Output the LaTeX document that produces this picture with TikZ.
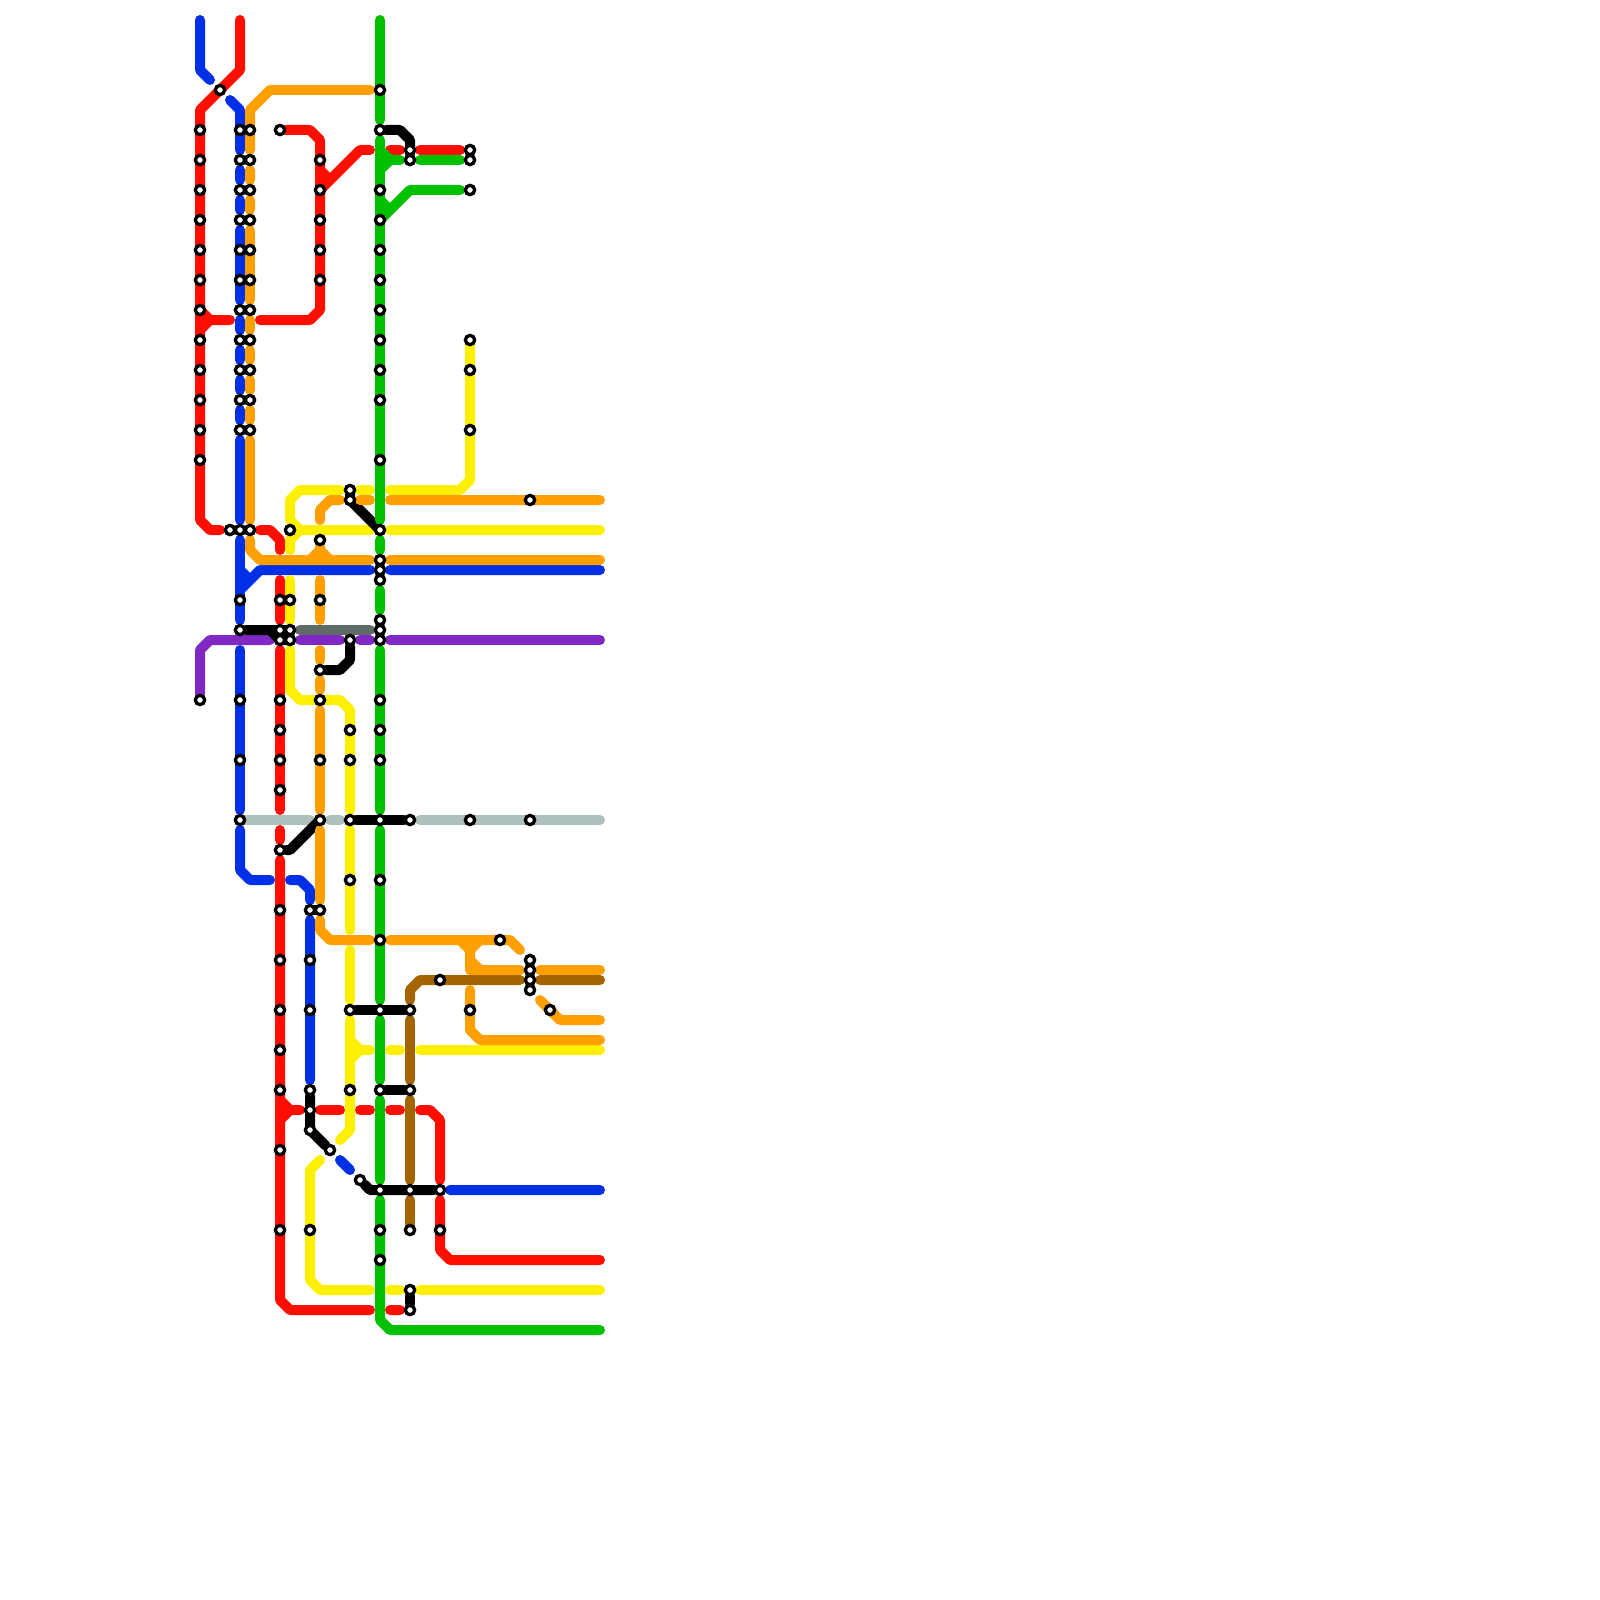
\documentclass[tikz,border=0pt]{standalone}
\usepackage{tikz}
\usetikzlibrary{backgrounds}
\definecolor{metrored}{HTML}{FF0D00}
\definecolor{metroblue}{HTML}{0030E6}
\definecolor{metroorange}{HTML}{FFA000}
\definecolor{metrogreen}{HTML}{00C000}
\definecolor{metroyellow}{HTML}{FFF000}
\definecolor{metropurple}{HTML}{8028C4}
\definecolor{metrobrown}{HTML}{A46400}
\definecolor{metrograyd}{HTML}{5F6B68}
\definecolor{metrograyl}{HTML}{ADC0BB}
\tikzstyle{station} = [circle, draw=black, fill=white, line width=0.33mm, minimum size=0.93mm, inner sep=0pt]
\tikzstyle{metro} = [line width=1mm, line cap=round, line join=round]
\tikzstyle{redline} = [metro, draw=metrored]
\tikzstyle{blueline} = [metro, draw=metroblue]
\tikzstyle{orangeline} = [metro, draw=metroorange]
\tikzstyle{greenline} = [metro, draw=metrogreen]
\tikzstyle{yellowline} = [metro, draw=metroyellow]
\tikzstyle{purpleline} = [metro, draw=metropurple]
\tikzstyle{brownline} = [metro, draw=metrobrown]
\tikzstyle{darkline} = [metro, draw=metrograyd]
\tikzstyle{paleline} = [metro, draw=metrograyl]
\tikzstyle{link} = [metro, draw=black]
\begin{document}
\begin{tikzpicture}[x=1mm, y=-1mm]
  \useasboundingbox (0,0) rectangle (160,160);

  % stations, column by column
  \foreach \sx/\rows in {
    20/{13,16,19,22,25,28,31,34,37,40,43,46,70},
    22/{9},
    23/{53},
    24/{13,16,19,22,25,28,31,34,37,40,43,53,60,63,70,76,82},
    25/{13,16,19,22,25,28,31,34,37,40,43,53},
    28/{13,60,63,64,70,73,76,79,85,91,96,101,105,109,115,123},
    29/{53,60,63,64},
    31/{91,96,101,109,111,113,123},
    32/{16,19,22,25,28,54,60,67,70,76,82,91},
    33/{115},
    35/{49,50,64,73,76,82,88,101,109},
    36/{118},
    38/{9,13,19,22,25,28,31,34,37,40,46,53,56,57,58,62,63,64,70,73,76,82,88,94,101,109,119,123,126},
    41/{15,16,82,101,109,119,123,129,131},
    44/{98,119,123},
    47/{15,16,19,34,37,43,82,101},
    50/{94},
    53/{50,82,96,97,98,99},
    55/{101}}
    \foreach \sy in \rows
      \node[station] (s\sx-\sy) at (\sx,\sy) {};

  \begin{scope}[on background layer]
    % red
    \draw[redline] (24,2) -- (24,7) -- (20,11) -- (20,52) -- (21,53) -- (22,53);
    \draw[redline] (20,31) -- (21,32) -- (23,32) (20,33) -- (21,32);
    \draw[redline] (s28-13) -- (31,13) -- (32,14) -- (32,31) -- (31,32) -- (26,32);
    \draw[redline] (32,17) -- (33,18) (32,19) -- (36,15) -- (37,15);
    \draw[redline] (39,15) -- (40,15) (42,15) -- (46,15);
    \draw[redline] (26,53) -- (27,53) -- (28,54) -- (28,55);
    \draw[redline] (28,58) -- (28,62) (28,65) -- (28,81) (28,83) -- (28,84);
    \draw[redline] (28,86) -- (28,130) -- (29,131) -- (37,131) (39,131) -- (40,131);
    \draw[redline] (28,110) -- (29,111) -- (30,111) (28,112) -- (29,111);
    \draw[redline] (32,111) -- (34,111) (36,111) -- (37,111) (39,111) -- (40,111);
    \draw[redline] (42,111) -- (43,111) -- (44,112) -- (44,118);
    \draw[redline] (44,120) -- (44,125) -- (45,126) -- (60,126);
    % blue
    \draw[blueline] (20,2) -- (20,7) -- (21,8);
    \draw[blueline] (23,10) -- (24,11) -- (24,15) (24,17) -- (24,18) (24,20) -- (24,21);
    \draw[blueline] (24,23) -- (24,30) (24,32) -- (24,33) (24,35) -- (24,36);
    \draw[blueline] (24,38) -- (24,39) (24,41) -- (24,42) (24,44) -- (24,52);
    \draw[blueline] (24,54) -- (24,62) (24,65) -- (24,81);
    \draw[blueline] (24,57) -- (25,58) (24,59) -- (26,57) -- (37,57) (39,57) -- (60,57);
    \draw[blueline] (24,83) -- (24,87) -- (25,88) -- (27,88);
    \draw[blueline] (29,88) -- (30,88) -- (31,89) -- (31,90) (31,92) -- (31,108);
    \draw[blueline] (34,116) -- (35,117) (45,119) -- (60,119);
    % yellow
    \draw[yellowline] (s47-34) -- (47,48) -- (46,49) -- (39,49) (36,49) -- (37,49);
    \draw[yellowline] (34,49) -- (30,49) -- (29,50) -- (29,52) -- (30,53) -- (37,53) (39,53) -- (60,53);
    \draw[yellowline] (29,55) -- (29,54) -- (30,53);
    \draw[yellowline] (29,58) -- (29,62);
    \draw[yellowline] (29,65) -- (29,69) -- (30,70) -- (34,70) -- (35,71) -- (35,81);
    \draw[yellowline] (35,83) -- (35,93) (35,95) -- (35,100);
    \draw[yellowline] (35,102) -- (35,113) -- (34,114);
    \draw[yellowline] (35,104) -- (36,105) (35,106) -- (36,105) -- (37,105);
    \draw[yellowline] (39,105) -- (40,105) (42,105) -- (60,105);
    \draw[yellowline] (32,116) -- (31,117) -- (31,128) -- (32,129) -- (37,129);
    \draw[yellowline] (39,129) -- (40,129) (42,129) -- (60,129);
    % purple
    \draw[purpleline] (s20-70) -- (20,65) -- (21,64) -- (27,64);
    \draw[purpleline] (30,64) -- (34,64) (36,64) -- (37,64) (39,64) -- (60,64);
    % brown
    \draw[brownline] (41,100) -- (41,99) -- (42,98) -- (52,98) (54,98) -- (60,98);
    \draw[brownline] (41,102) -- (41,108) (41,110) -- (41,118) (41,120) -- (s41-123);
    % grey
    \draw[darkline] (30,63) -- (37,63);
    \draw[paleline] (s24-82) -- (31,82) (33,82) -- (34,82) (42,82) -- (60,82);
    % black links
    \draw[link] (s38-13) -- (40,13) -- (41,14) -- (s41-16);
    \draw[link] (s35-49.center) -- (s35-50.center) -- (s38-53.center);
    \draw[link] (s24-63) -- (s29-63.center) (27,63) -- (s28-64.center) -- (s29-64.center);
    \draw[link] (s35-64) -- (35,66) -- (34,67) -- (s32-67);
    \draw[link] (s28-85) -- (29,85) -- (s32-82.center);
    \draw[link] (s35-82) -- (s41-82);
    \draw[link] (s31-91.center) -- (s32-91.center);
    \draw[link] (s35-101) -- (s41-101);
    \draw[link] (s38-109) -- (s41-109);
    \draw[link] (s31-109) -- (31,113) -- (s33-115);
    \draw[link] (s36-118) -- (37,119) -- (s44-119);
    \draw[link] (s41-129) -- (s41-131);
    % orange
    \draw[orangeline] (37,9) -- (27,9) -- (25,11) -- (25,15) (25,17) -- (25,18) (25,20) -- (25,21);
    \draw[orangeline] (25,23) -- (25,30) (25,32) -- (25,33) (25,35) -- (25,36);
    \draw[orangeline] (25,38) -- (25,39) (25,41) -- (25,42) (25,44) -- (25,52);
    \draw[orangeline] (25,54) -- (25,55) -- (26,56) -- (37,56) (39,56) -- (60,56);
    \draw[orangeline] (31,56) -- (32,55) -- (33,56) (s32-54) -- (32,55);
    \draw[orangeline] (32,52) -- (32,51) -- (33,50) -- (34,50) (36,50) -- (37,50) (39,50) -- (60,50);
    \draw[orangeline] (32,58) -- (32,62) (32,65) -- (32,66) (32,68) -- (32,69);
    \draw[orangeline] (32,71) -- (32,81) (32,83) -- (32,90);
    \draw[orangeline] (32,92) -- (32,93) -- (33,94) -- (37,94);
    \draw[orangeline] (39,94) -- (51,94) -- (52,95);
    \draw[orangeline] (46,94) -- (47,95) (48,94) -- (47,95) -- (47,97) -- (52,97) (47,96) -- (48,97);
    \draw[orangeline] (54,97) -- (60,97);
    \draw[orangeline] (47,99) -- (47,103) -- (48,104) -- (60,104);
    \draw[orangeline] (54,100) -- (56,102) -- (60,102);
    % green
    \draw[greenline] (38,2) -- (38,12) (38,14) -- (38,52) (38,54) -- (38,55) (38,59) -- (38,61);
    \draw[greenline] (38,65) -- (38,81) (38,83) -- (38,100) (38,102) -- (38,108) (38,110) -- (38,118);
    \draw[greenline] (38,120) -- (38,132) -- (39,133) -- (60,133);
    \draw[greenline] (38,15) -- (39,16) -- (40,16) (38,17) -- (39,16) (42,16) -- (46,16);
    \draw[greenline] (38,20) -- (39,21) (38,22) -- (41,19) -- (46,19);
  \end{scope}
\end{tikzpicture}
\end{document}
